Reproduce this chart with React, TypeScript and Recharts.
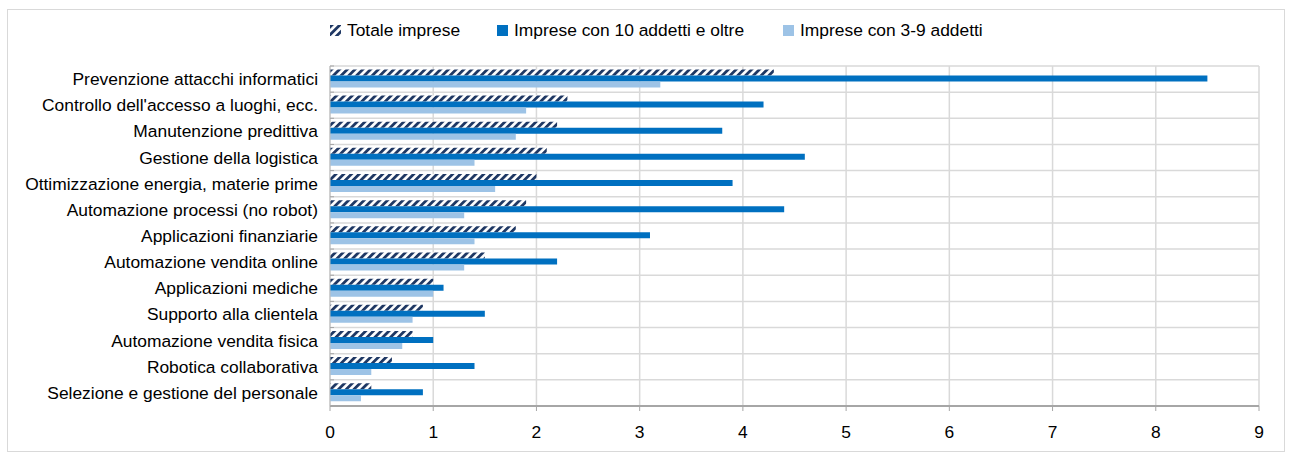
import { BarChart, Bar, XAxis, YAxis, CartesianGrid, Legend } from 'recharts';

const CATEGORIES = [
  'Prevenzione attacchi informatici',
  "Controllo dell'accesso a luoghi, ecc.",
  'Manutenzione predittiva',
  'Gestione della logistica',
  'Ottimizzazione energia, materie prime',
  'Automazione processi (no robot)',
  'Applicazioni finanziarie',
  'Automazione vendita online',
  'Applicazioni mediche',
  'Supporto alla clientela',
  'Automazione vendita fisica',
  'Robotica collaborativa',
  'Selezione e gestione del personale',
];

const TOTALE = [4.3, 2.3, 2.2, 2.1, 2.0, 1.9, 1.8, 1.5, 1.0, 0.9, 0.8, 0.6, 0.4];
const OLTRE_10 = [8.5, 4.2, 3.8, 4.6, 3.9, 4.4, 3.1, 2.2, 1.1, 1.5, 1.0, 1.4, 0.9];
const DA_3_A_9 = [3.2, 1.9, 1.8, 1.4, 1.6, 1.3, 1.4, 1.3, 1.0, 0.8, 0.7, 0.4, 0.3];

const X_TICKS = [0, 1, 2, 3, 4, 5, 6, 7, 8, 9];

// legend slot widths, as in the original layout
const SERIES = [
  { key: 'totale', label: 'Totale imprese', fill: 'url(#hatch)', slot: 167 },
  { key: 'oltre10', label: 'Imprese con 10 addetti e oltre', fill: '#0070C0', slot: 286 },
  { key: 'da3a9', label: 'Imprese con 3-9 addetti', fill: '#9DC3E6', slot: 240 },
];

const data = CATEGORIES.map((name, i) => ({
  name,
  totale: TOTALE[i],
  oltre10: OLTRE_10[i],
  da3a9: DA_3_A_9[i],
}));

const CHART_W = 1276;
const CHART_H = 441;
const MARGIN = { top: 10, right: 25, bottom: 15, left: 0 };
const X_AXIS_H = 30;
const LEGEND_H = 46;
const PLOT_H = CHART_H - MARGIN.top - MARGIN.bottom - X_AXIS_H - LEGEND_H;
const BAND = PLOT_H / CATEGORIES.length;
const FONT = 17.4;

const GRID = '#d9d9d9';
const AXIS = '#a6a6a6';

function CategoryTick(props: any) {
  const { x, y, payload, index } = props;
  return (
    <g>
      <line x1={x + 8} x2={x + 12} y1={y - BAND / 2} y2={y - BAND / 2} stroke={AXIS} />
      {index === CATEGORIES.length - 1 && (
        <line x1={x + 8} x2={x + 12} y1={y + BAND / 2} y2={y + BAND / 2} stroke={AXIS} />
      )}
      <text x={x - 4} y={y} dy={6} textAnchor="end" fill="#000" fontSize={FONT}>
        {payload.value}
      </text>
    </g>
  );
}

function LegendContent() {
  return (
    <div
      style={{
        display: 'flex',
        justifyContent: 'flex-start',
        paddingLeft: 322,
        height: LEGEND_H,
        boxSizing: 'border-box',
        fontSize: FONT,
        color: '#000',
        textAlign: 'left',
      }}
    >
      {SERIES.map((s) => (
        <div key={s.key} style={{ display: 'flex', alignItems: 'center', height: 20, width: s.slot }}>
          <svg width={11} height={11} style={{ marginRight: 6 }}>
            <rect width={11} height={11} fill={s.fill} />
          </svg>
          <span style={{ whiteSpace: 'nowrap' }}>{s.label}</span>
        </div>
      ))}
    </div>
  );
}

export default function App() {
  return (
    <div
      style={{
        position: 'absolute',
        left: 7,
        top: 9,
        width: 1278,
        height: 443,
        border: `1px solid ${GRID}`,
        boxSizing: 'border-box',
        fontFamily: '"Liberation Sans", Arial, sans-serif',
        background: '#fff',
      }}
    >
      <svg width={0} height={0} style={{ position: 'absolute' }}>
        <defs>
          <pattern id="hatch" patternUnits="userSpaceOnUse" width={5.5} height={5.5} patternTransform="rotate(45)">
            <rect width={5.5} height={5.5} fill="#fff" />
            <rect width={2.8} height={5.5} fill="#1F3864" />
          </pattern>
        </defs>
      </svg>
      <BarChart
        width={CHART_W}
        height={CHART_H}
        data={data}
        layout="vertical"
        margin={MARGIN}
        barCategoryGap="13%"
        barGap={0}
      >
        <CartesianGrid
          stroke={GRID}
          strokeWidth={1.5}
          horizontalCoordinatesGenerator={({ offset }: any) =>
            Array.from({ length: CATEGORIES.length + 1 }, (_, i) => offset.top + i * (offset.height / CATEGORIES.length))
          }
        />
        <Legend verticalAlign="top" align="left" height={LEGEND_H} content={<LegendContent />} />
        <XAxis
          type="number"
          domain={[0, 9]}
          ticks={X_TICKS}
          interval={0}
          height={X_AXIS_H}
          axisLine={{ stroke: AXIS, strokeWidth: 2 }}
          tickLine={{ stroke: AXIS }}
          tickSize={5}
          tickMargin={15}
          tick={{ fill: '#000', fontSize: FONT }}
        />
        <YAxis
          type="category"
          dataKey="name"
          width={322}
          interval={0}
          axisLine={{ stroke: '#bfbfbf' }}
          tickLine={false}
          tick={<CategoryTick />}
        />
        {SERIES.map((s) => (
          <Bar key={s.key} dataKey={s.key} name={s.label} fill={s.fill} isAnimationActive={false} />
        ))}
      </BarChart>
    </div>
  );
}
